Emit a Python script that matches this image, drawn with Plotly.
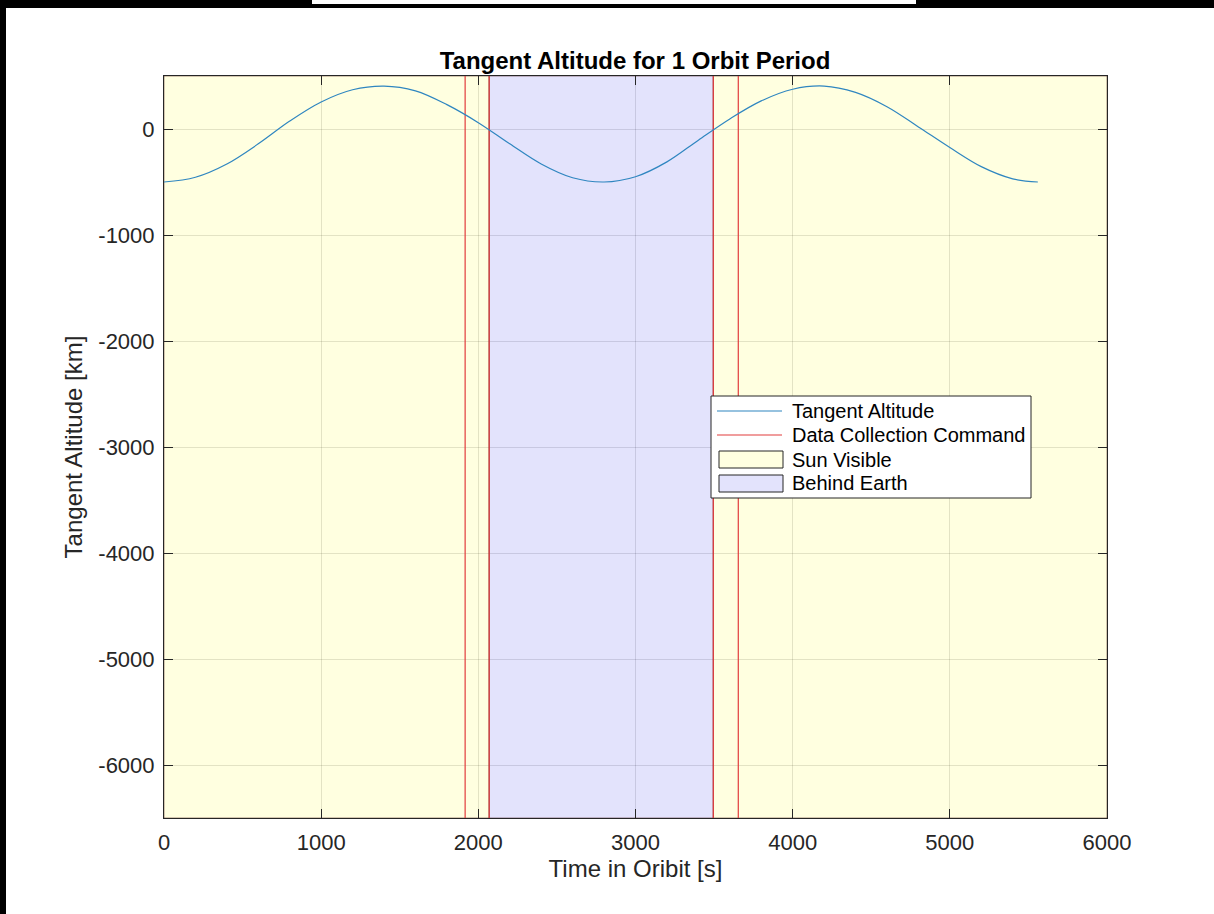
import plotly.graph_objects as go

# ---- data ----
time_s = [0, 200, 400, 600, 800, 1000, 1200, 1400, 1600, 1800, 2000, 2200, 2400, 2600,
          2800, 3000, 3200, 3400, 3600, 3800, 4000, 4200, 4400, 4600, 4800, 5000, 5200,
          5400, 5560]
tangent_alt_km = [-500, -455, -330, -140, 75, 255, 370, 405, 360, 230, 60, -140, -330, -460,
                  -500, -450, -310, -105, 95, 265, 375, 405, 345, 210, 20, -175, -355,
                  -470, -500]
command_times = [1916, 2069, 3495, 3654]
behind_earth = [2069, 3495]
x_range = [0, 6000]
y_range = [-6500, 500]
x_ticks = [0, 1000, 2000, 3000, 4000, 5000, 6000]
y_ticks = [-6000, -5000, -4000, -3000, -2000, -1000, 0]
legend_labels = ["Tangent Altitude", "Data Collection Command", "Sun Visible", "Behind Earth"]

W, H = 1214, 914
L, R, T, B = 164, 107, 76, 96
pw, ph = W - L - R, H - T - B

def px(xp):
    return (xp - L) / pw

def py(yp):
    return (H - B - yp) / ph

FONT = "Liberation Sans, Arial, Helvetica, sans-serif"
TXT = "#262626"
BLUE = "#2f86c0"
RED = "rgb(225,60,60)"
SUN_FILL = "rgba(255,255,0,0.12)"
EARTH_FILL = "rgba(40,40,230,0.13)"

fig = go.Figure()

# Sun visible patches (outside the behind-earth window)
sx = [x_range[0], behind_earth[0], behind_earth[0], x_range[0], x_range[0], None,
      behind_earth[1], x_range[1], x_range[1], behind_earth[1], behind_earth[1]]
sy = [y_range[0], y_range[0], y_range[1], y_range[1], y_range[0], None,
      y_range[0], y_range[0], y_range[1], y_range[1], y_range[0]]
fig.add_trace(go.Scatter(x=sx, y=sy, fill="toself", mode="lines", fillcolor=SUN_FILL,
                         line=dict(color="rgba(60,0,0,0.45)", width=1),
                         name=legend_labels[2], hoverinfo="skip", showlegend=False))
bx = [behind_earth[0], behind_earth[1], behind_earth[1], behind_earth[0], behind_earth[0]]
by = [y_range[0], y_range[0], y_range[1], y_range[1], y_range[0]]
fig.add_trace(go.Scatter(x=bx, y=by, fill="toself", mode="lines", fillcolor=EARTH_FILL,
                         line=dict(color="rgba(60,0,0,0.45)", width=1),
                         name=legend_labels[3], hoverinfo="skip", showlegend=False))

# command lines
cx, cy = [], []
for c in command_times:
    cx += [c, c, None]
    cy += [y_range[0], y_range[1], None]
fig.add_trace(go.Scatter(x=cx, y=cy, mode="lines", line=dict(color=RED, width=1.2),
                         name=legend_labels[1], showlegend=False))

fig.add_trace(go.Scatter(x=time_s, y=tangent_alt_km, mode="lines",
                         line=dict(color=BLUE, width=1.2, shape="spline"),
                         name=legend_labels[0], showlegend=False))

axis_common = dict(showline=True, linecolor=TXT, linewidth=1, mirror="ticks",
                   ticks="inside", ticklen=9, tickcolor=TXT,
                   showgrid=True, gridcolor="rgba(0,0,0,0.12)", gridwidth=1,
                   zeroline=False,
                   tickfont=dict(family=FONT, size=22, color=TXT))

fig.update_xaxes(range=x_range, tickvals=x_ticks, ticktext=[str(v) for v in x_ticks],
                 title=dict(text="Time in Oribit [s]", font=dict(family=FONT, size=24, color=TXT),
                            standoff=4),
                 ticklabelstandoff=5,
                 **axis_common)
fig.update_yaxes(range=y_range, tickvals=y_ticks, ticktext=[str(v) for v in y_ticks],
                 title=dict(text="Tangent Altitude [km]", font=dict(family=FONT, size=24, color=TXT),
                            standoff=8),
                 ticklabelstandoff=4,
                 **axis_common)

shapes = [
    # left black strip
    dict(type="rect", xref="paper", yref="paper", x0=px(0), x1=px(6), y0=py(H), y1=py(0),
         fillcolor="black", line=dict(width=0), layer="above"),
    # top black bar
    dict(type="rect", xref="paper", yref="paper", x0=px(0), x1=px(W), y0=py(8), y1=py(0),
         fillcolor="black", line=dict(width=0), layer="above"),
    # white box in top bar
    dict(type="rect", xref="paper", yref="paper", x0=px(312), x1=px(916), y0=py(4), y1=py(0),
         fillcolor="white", line=dict(width=0), layer="above"),
    # legend box
    dict(type="rect", xref="paper", yref="paper", x0=px(711), x1=px(1031), y0=py(498), y1=py(396),
         fillcolor="white", line=dict(color=TXT, width=1), layer="above"),
    # legend samples
    dict(type="line", xref="paper", yref="paper", x0=px(717), x1=px(782), y0=py(411), y1=py(411),
         line=dict(color=BLUE, width=1.2), layer="above"),
    dict(type="line", xref="paper", yref="paper", x0=px(717), x1=px(782), y0=py(435), y1=py(435),
         line=dict(color=RED, width=1.2), layer="above"),
    dict(type="rect", xref="paper", yref="paper", x0=px(719), x1=px(783), y0=py(468), y1=py(451),
         fillcolor=SUN_FILL, line=dict(color=TXT, width=1), layer="above"),
    dict(type="rect", xref="paper", yref="paper", x0=px(719), x1=px(783), y0=py(492), y1=py(475),
         fillcolor=EARTH_FILL, line=dict(color=TXT, width=1), layer="above"),
]

annotations = []
for lab, yy in zip(legend_labels, [411, 435, 460, 483]):
    annotations.append(dict(xref="paper", yref="paper", x=px(790), y=py(yy), xanchor="left",
                            yanchor="middle", text=lab, showarrow=False,
                            font=dict(family=FONT, size=20, color="black")))

fig.update_layout(
    width=W, height=H,
    margin=dict(l=L, r=R, t=T, b=B),
    paper_bgcolor="white", plot_bgcolor="white",
    title=dict(text="<b>Tangent Altitude for 1 Orbit Period</b>", x=635 / W, xanchor="center",
               y=(H - 61) / H, yanchor="middle",
               font=dict(family=FONT, size=24, color="black")),
    shapes=shapes,
    annotations=annotations,
    showlegend=False,
)

fig.write_html("out.html",
               config={"displayModeBar": False},
               post_script="document.body.style.margin='0';document.body.style.overflow='hidden';"
                           "document.documentElement.style.overflow='hidden';")
